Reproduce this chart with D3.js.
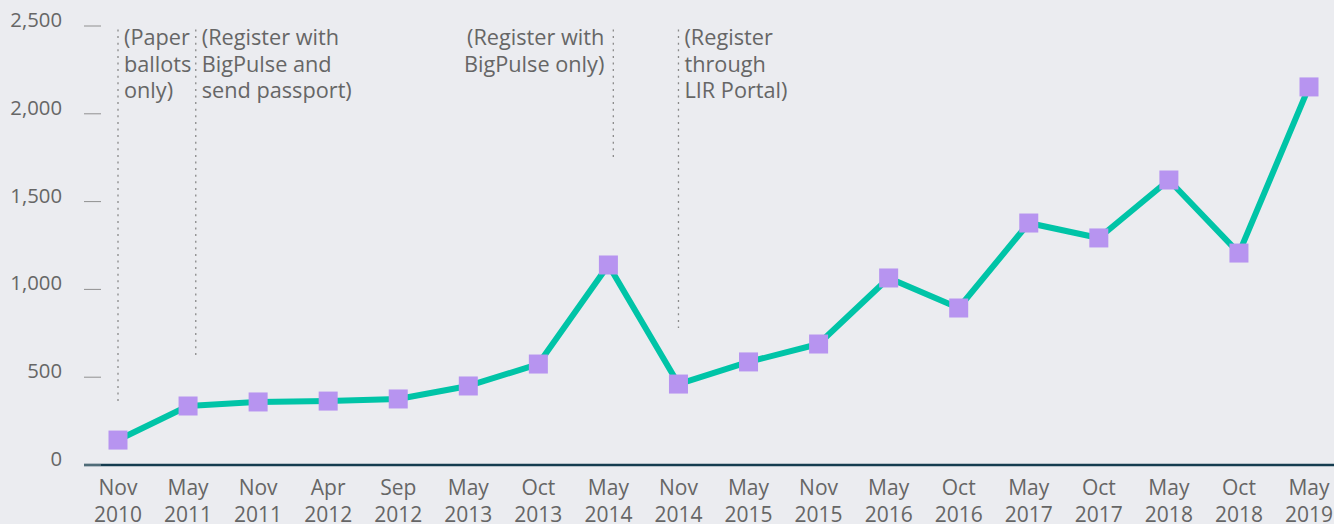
<!DOCTYPE html>
<html>
<head>
<meta charset="utf-8">
<script src="https://cdn.jsdelivr.net/npm/d3@7"></script>
<style>
  html, body { margin: 0; padding: 0; background: #ebecf0; }
  svg { display: block; }
  text { font-family: "Open Sans", sans-serif; fill: #666; }
</style>
</head>
<body>
<svg id="chart" width="1334" height="524"></svg>
<script>
const categories = ["Nov 2010","May 2011","Nov 2011","Apr 2012","Sep 2012","May 2013","Oct 2013","May 2014","Nov 2014","May 2015","Nov 2015","May 2016","Oct 2016","May 2017","Oct 2017","May 2018","Oct 2018","May 2019"];
const values = [142, 336, 359, 364, 376, 450, 575, 1139, 461, 587, 689, 1065, 894, 1378, 1293, 1623, 1207, 2153];
const yTicks = [0, 500, 1000, 1500, 2000, 2500];
const annotationAt = ["Nov 2010", "May 2011", "May 2014", "Nov 2014"];
const annotationShift = [0, 0.11, 0.07, 0];
const annotationBottom = [340, 615, 1737, 780];
const annotationSide = ["right", "right", "left", "right"];
const annotationText = [
  ["(Paper", "ballots", "only)"],
  ["(Register with", "BigPulse and", "send passport)"],
  ["(Register with", "BigPulse only)"],
  ["(Register", "through", "LIR Portal)"]
];

const svg = d3.select("#chart");
const x = d3.scalePoint().domain(categories).range([118, 1309]);
const step = x.step();
const y = d3.scaleLinear().domain([0, 2500]).range([465, 26]);

// Y axis ticks and labels
const yg = svg.append("g");
yg.selectAll("line.tick").data(yTicks).enter().append("line")
  .attr("x1", 84).attr("x2", 101)
  .attr("y1", d => y(d)).attr("y2", d => y(d))
  .attr("stroke", d => d === 0 ? "#4f6c78" : "#909090")
  .attr("stroke-width", d => d === 0 ? 2.7 : 1);
yg.selectAll("text").data(yTicks).enter().append("text")
  .attr("x", 62).attr("y", d => y(d) + 1)
  .attr("text-anchor", "end")
  .attr("font-size", 20.3)
  .text(d3.format(","));

// baseline
svg.append("line")
  .attr("x1", 101).attr("x2", 1334)
  .attr("y1", y(0)).attr("y2", y(0))
  .attr("stroke", "#143c4f").attr("stroke-width", 2.7);

// X labels
const xg = svg.append("g");
categories.forEach(c => {
  const parts = c.split(" ");
  const t = xg.append("text")
    .attr("text-anchor", "middle").attr("font-size", 21);
  t.append("tspan").attr("x", x(c)).attr("y", 495).text(parts[0]);
  t.append("tspan").attr("x", x(c)).attr("y", 521.5).text(parts[1]);
});

// annotations
annotationAt.forEach((a, i) => {
  const lx = x(a) + annotationShift[i] * step;
  svg.append("line")
    .attr("x1", lx).attr("x2", lx)
    .attr("y1", y(2480)).attr("y2", y(annotationBottom[i]))
    .attr("stroke", "#8a8a8a").attr("stroke-width", 1.3)
    .attr("stroke-dasharray", "2,4.6");
  const right = annotationSide[i] === "right";
  const t = svg.append("text")
    .attr("font-size", 21.7)
    .attr("text-anchor", right ? "start" : "end");
  annotationText[i].forEach((s, k) => {
    t.append("tspan")
      .attr("x", right ? lx + 6 : lx - 9)
      .attr("y", 45 + k * 26.7)
      .text(s);
  });
});

// line
svg.append("path")
  .datum(values)
  .attr("fill", "none")
  .attr("stroke", "#00c4a7")
  .attr("stroke-width", 6)
  .attr("stroke-linejoin", "round")
  .attr("d", d3.line().x((d, i) => x(categories[i])).y(d => y(d)));

// markers
const ms = 19;
svg.selectAll("rect.marker").data(values).enter().append("rect")
  .attr("class", "marker")
  .attr("x", (d, i) => x(categories[i]) - ms / 2)
  .attr("y", d => y(d) - ms / 2)
  .attr("width", ms).attr("height", ms)
  .attr("fill", "#b794f0");
</script>
</body>
</html>
